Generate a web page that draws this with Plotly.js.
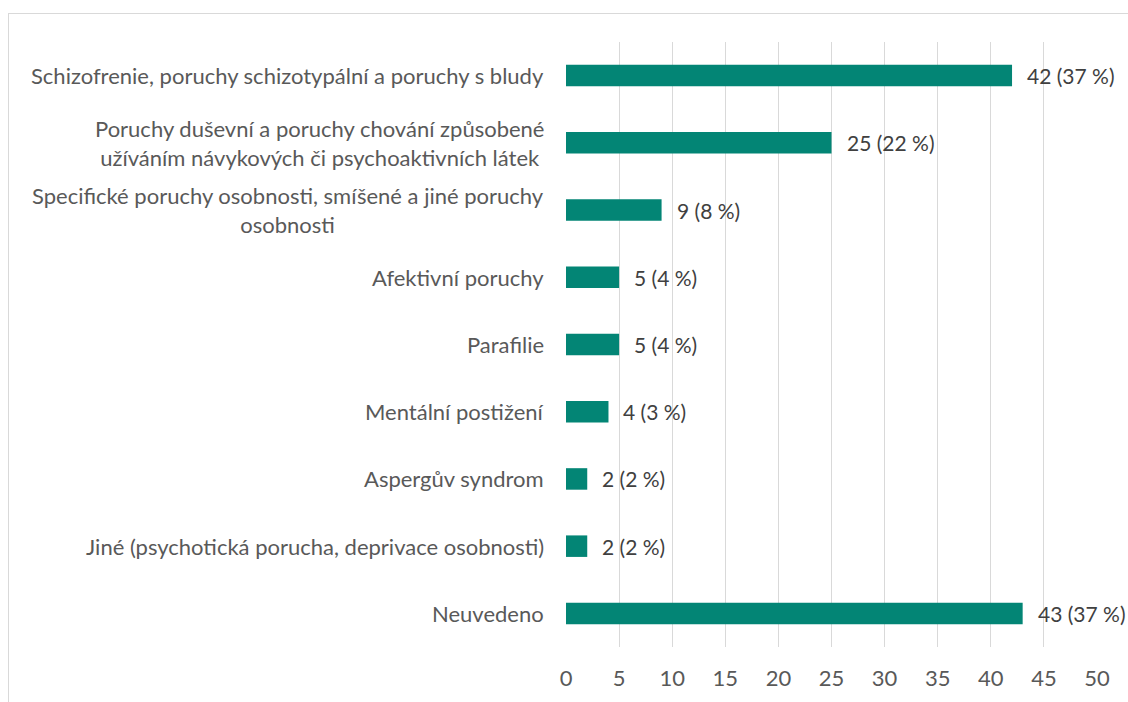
<!DOCTYPE html>
<html>
<head>
<meta charset="utf-8">
<script src="https://cdn.plot.ly/plotly-3.0.1.min.js"></script>
<style>
  html, body { margin: 0; padding: 0; background: #ffffff; }
  #frame { position: absolute; left: 8px; top: 13px; width: 1300px; height: 800px; border-left: 1px solid #d9d9d9; border-top: 1px solid #d9d9d9; }
  #chart { position: absolute; left: 0; top: 0; width: 1128px; height: 702px; }
</style>
</head>
<body>
<div id="frame"></div>
<div id="chart"></div>
<script>
const categories = [
  "Schizofrenie, poruchy schizotypální a poruchy s bludy",
  "Poruchy duševní a poruchy chování způsobené<br>užíváním návykových či psychoaktivních látek",
  "Specifické poruchy osobnosti, smíšené a jiné poruchy<br>osobnosti",
  "Afektivní poruchy",
  "Parafilie",
  "Mentální postižení",
  "Aspergův syndrom",
  "Jiné (psychotická porucha, deprivace osobnosti)",
  "Neuvedeno"
];
const counts = [42, 25, 9, 5, 5, 4, 2, 2, 43];
const percents = [37, 22, 8, 4, 4, 3, 2, 2, 37];
const tickValues = [0, 5, 10, 15, 20, 25, 30, 35, 40, 45, 50];

const FONT = "Lato, 'Open Sans', sans-serif";
const ids = categories.map((c, i) => "c" + i);

const trace = {
  type: "bar",
  orientation: "h",
  y: ids,
  x: counts,
  marker: { color: "#038575" },
  hoverinfo: "x"
};

const annotations = [];
categories.forEach((c, i) => {
  annotations.push({
    xref: "paper", yref: "y", x: 0, y: ids[i],
    xanchor: "right", yanchor: "middle", xshift: -20,
    align: "center", showarrow: false, text: c,
    font: { family: FONT, size: 22, color: "#595959" }
  });
  annotations.push({
    xref: "x", yref: "y", x: counts[i], y: ids[i],
    xanchor: "left", yanchor: "middle", xshift: 13,
    showarrow: false, text: counts[i] + " (" + percents[i] + " %)",
    font: { family: FONT, size: 21, color: "#404040" }
  });
});

const layout = {
  width: 1128, height: 702,
  margin: { l: 566, r: 31, t: 42, b: 55, pad: 0 },
  paper_bgcolor: "rgba(0,0,0,0)",
  plot_bgcolor: "rgba(0,0,0,0)",
  showlegend: false,
  bargap: 0.68,
  font: { family: FONT, size: 22, color: "#595959" },
  xaxis: {
    range: [0, 50],
    tickvals: tickValues,
    ticktext: tickValues.map(String),
    showgrid: true, gridcolor: "#d9d9d9", gridwidth: 1,
    zeroline: false, showline: false, ticks: "",
    ticklabelstandoff: 16,
    tickfont: { family: FONT, size: 22, color: "#595959" },
    fixedrange: true
  },
  yaxis: {
    autorange: "reversed",
    showticklabels: false, showgrid: false, zeroline: false, showline: false, ticks: "",
    fixedrange: true
  },
  annotations: annotations
};

Plotly.newPlot("chart", [trace], layout, { displayModeBar: false, staticPlot: true });
</script>
</body>
</html>
